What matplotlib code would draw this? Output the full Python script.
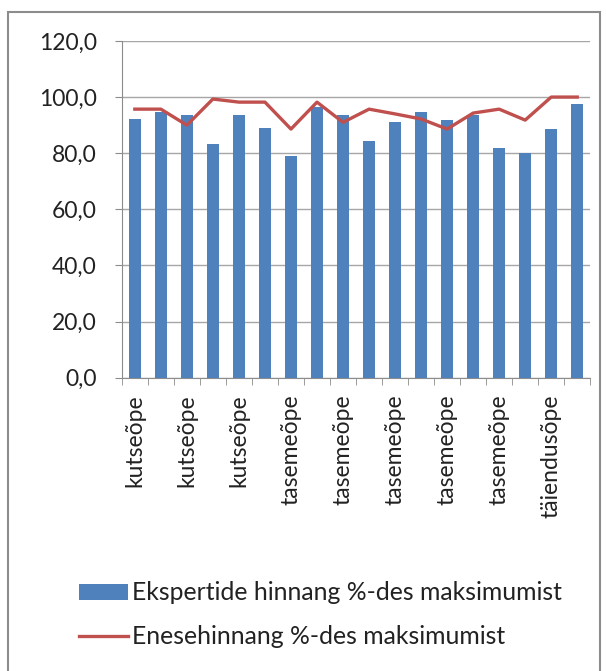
import numpy as np
import matplotlib
matplotlib.use("Agg")
import matplotlib.pyplot as plt
from matplotlib.patches import Rectangle
from matplotlib.ticker import FuncFormatter, FixedLocator

# andmed
kategooriad = ["kutseõpe", "", "kutseõpe", "", "kutseõpe", "", "tasemeõpe", "",
               "tasemeõpe", "", "tasemeõpe", "", "tasemeõpe", "", "tasemeõpe", "",
               "täiendusõpe", ""]
eksperdid = [92.2, 94.7, 93.6, 83.3, 93.6, 89.0, 79.0, 96.4, 93.6,
             84.3, 91.0, 94.7, 91.8, 93.6, 81.8, 80.0, 88.6, 97.7]
enesehinnang = [95.7, 95.7, 90.0, 99.3, 98.2, 98.2, 88.6, 98.2, 91.0,
                95.7, 94.0, 92.2, 88.6, 94.3, 95.7, 91.8, 100.0, 100.0]

plt.rcParams['font.family'] = ['Lato', 'DejaVu Sans']

fig = plt.figure(figsize=(6.06, 6.71), dpi=100)
# raam ümber diagrammi
fig.patches.append(Rectangle((8 / 606, -0.01), 592 / 606, 1 - 12 / 671 + 0.01,
                             transform=fig.transFigure, fill=False,
                             edgecolor="#8c8c8c", linewidth=1.5))

ax = fig.add_axes([0.201, 0.437, 0.773, 0.502])
x = np.arange(len(kategooriad))
tulbad = ax.bar(x, eksperdid, width=0.45, color="#4F81BD", zorder=3)
joon, = ax.plot(x, enesehinnang, color="#C0504D", linewidth=2.4, zorder=4)

ax.set_xlim(-0.5, len(kategooriad) - 0.5)
ax.set_ylim(0, 120)
ax.set_yticks(np.arange(0, 121, 20))
ax.yaxis.set_major_formatter(FuncFormatter(lambda v, p: f"{v:.1f}".replace(".", ",")))
ax.grid(axis="y", color="#a6a6a6", linewidth=1, zorder=0)

ax.set_xticks(x)
ax.set_xticklabels(kategooriad, rotation=90)
ax.tick_params(axis="x", which="major", length=0, pad=12)
ax.xaxis.set_minor_locator(FixedLocator(np.arange(-0.5, len(kategooriad), 1)))
ax.tick_params(axis="x", which="minor", length=5, color="#8c8c8c")
ax.tick_params(axis="y", length=5, color="#8c8c8c", pad=13)
ax.tick_params(labelsize=16.5, labelcolor="#222222")

for s in ["top", "right"]:
    ax.spines[s].set_visible(False)
for s in ["left", "bottom"]:
    ax.spines[s].set_color("#8c8c8c")

fig.legend([tulbad, joon],
           ["Ekspertide hinnang %-des maksimumist", "Enesehinnang %-des maksimumist"],
           loc="upper left", bbox_to_anchor=(0.11, 0.152), frameon=False,
           fontsize=17.8, handlelength=2.0, handleheight=0.6, handletextpad=0.15,
           labelspacing=0.85, borderpad=0, labelcolor="#222222")

fig.savefig("out.png", dpi=100)
